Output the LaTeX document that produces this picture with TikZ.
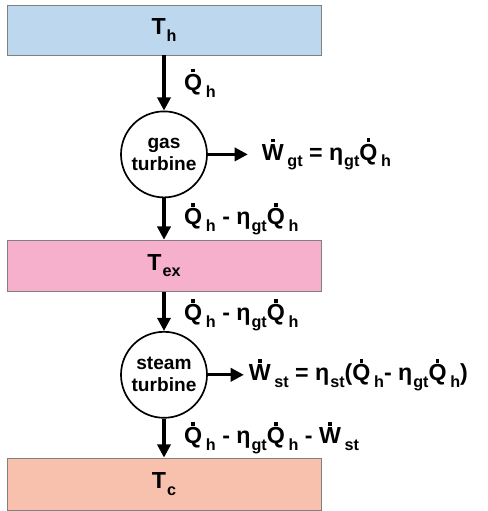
\documentclass[tikz,border=0pt]{standalone}
\usepackage{fontspec}
\setmainfont{Liberation Sans}
\usepackage{tikz}
\usetikzlibrary{arrows.meta}

\definecolor{hotblue}{RGB}{189,215,238}
\definecolor{expink}{RGB}{246,176,204}
\definecolor{coldred}{RGB}{248,193,174}

% dot over a letter, and a lowered small subscript
\newcommand{\rate}[1]{{\setbox0=\hbox{#1}\hbox to\wd0{\hss\raisebox{\dimexpr\ht0+1.2pt\relax}{\rule{0.16em}{0.16em}}\hss}\kern-\wd0\box0\kern0.12em}}
\newcommand{\sub}[1]{\kern0.04em\raisebox{-0.3em}{\fontsize{11.5}{12}\selectfont #1}}

\begin{document}
\begin{tikzpicture}[
  font=\bfseries\fontsize{16.5}{19}\selectfont,
  res/.style={draw=gray, line width=0.6pt, minimum width=7.85cm, inner sep=0pt},
  turb/.style={circle, draw, line width=1.2pt, fill=white, minimum size=2.15cm, inner sep=0pt,
    align=center, font=\bfseries\fontsize{13.6}{15.6}\selectfont},
  flow/.style={line width=2.2pt, -{Triangle[length=0.33cm,width=0.33cm]}},
  lab/.style={right, xshift=0.35cm}
]
\useasboundingbox (0,0) rectangle (12.2,-12.775);

\node[res, fill=hotblue, minimum height=1.25cm] (th) at (4.1,-0.75) {T\sub{h}};
\node[turb] (gt) at (4.1,-3.86) {gas\\turbine};
\node[res, fill=expink, minimum height=1.275cm] (tex) at (4.1,-6.64) {T\sub{ex}};
\node[turb] (st) at (4.1,-9.37) {steam\\turbine};
\node[res, fill=coldred, minimum height=1.3cm] (tc) at (4.1,-12.1) {T\sub{c}};

\node[anchor=west] (wgt) at ([xshift=1.225cm]gt.east)
  {\rate{W}\sub{gt} = η\sub{gt}\rate{Q}\sub{h}};
\node[anchor=west] (wst) at ([xshift=0.9cm]st.east)
  {\rate{W}\sub{st} = η\sub{st}(\rate{Q}\sub{h}- η\sub{gt}\rate{Q}\sub{h})};

\draw[flow] (th) -- node[lab] {\rate{Q}\sub{h}} (gt);
\draw[flow] (gt) -- node[lab] {\rate{Q}\sub{h} - η\sub{gt}\rate{Q}\sub{h}} (tex);
\draw[flow] (tex) -- node[lab, pos=0.6] {\rate{Q}\sub{h} - η\sub{gt}\rate{Q}\sub{h}} (st);
\draw[flow] (st) -- node[lab] {\rate{Q}\sub{h} - η\sub{gt}\rate{Q}\sub{h} - \rate{W}\sub{st}} (tc);
\draw[flow, shorten >=0.225cm] (gt) -- (wgt);
\draw[flow] (st) -- (wst);
\end{tikzpicture}
\end{document}
